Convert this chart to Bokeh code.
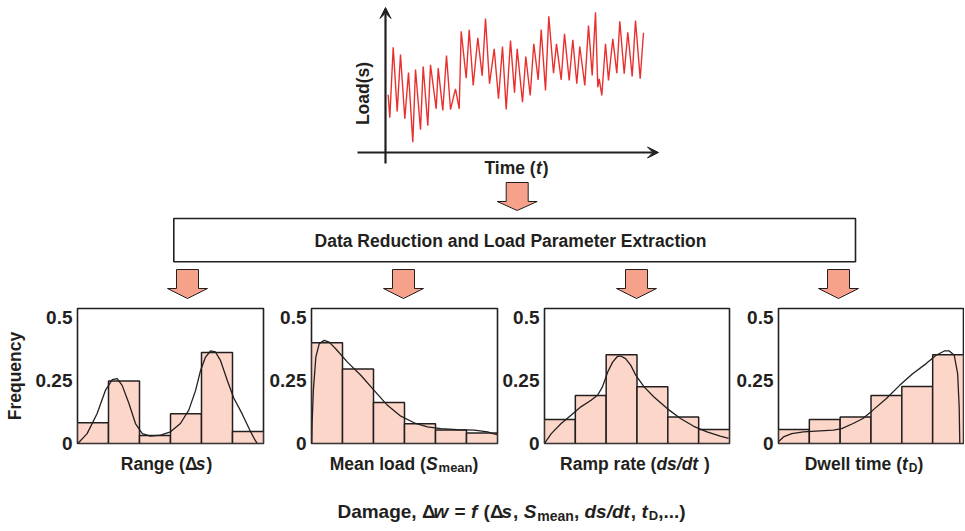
import numpy as np
from bokeh.plotting import figure
from bokeh.models import Range1d, Arrow, VeeHead, FixedTicker, Spacer
from bokeh.layouts import column, row
from bokeh.core.properties import value
from bokeh.embed import file_html
from bokeh.resources import INLINE

FONT = "Liberation Sans"
INK = "#231f20"
RED = "#e8312f"
ARROW_FILL = "#f6a28a"
BAR_FILL = "#fcd6c8"

# ---------------- data ----------------
# load history (time, load) read off the top signal
sig_time = [0.7, 2.3, 5.7, 9.7, 13, 17.3, 21, 25.3, 28, 33, 35.7, 40.3, 43, 48.7, 50.7, 55.3,
            59, 63, 68, 71.7, 73.7, 78.7, 81.7, 85.7, 90.3, 94.7, 98, 102, 106.7, 111, 115,
            118.7, 123, 127, 129.7, 135, 138.3, 142.7, 146.3, 150.7, 153.7, 158, 161.3, 166,
            169, 173.7, 177, 181.7, 185.3, 189.3, 192.3, 197.3, 201, 204.7, 208, 210.3, 211.7,
            214.3, 218, 221, 225.3, 229.3, 232.3, 236.7, 240.3, 244.7, 248, 252.7, 256]
sig_load = [57.7, 34.7, 105.3, 41, 98, 33.7, 80, 10.3, 83, 22.7, 86, 26.7, 87.7, 43.7, 84.3, 42,
            97, 43, 63.7, 43.7, 121.3, 74.3, 122.7, 67, 114.7, 76.7, 134, 68.7, 103.7, 53.7, 106,
            43, 112, 59.7, 103.7, 50.3, 96, 57, 108.7, 72.7, 123, 62, 136.3, 79.3,
            108.7, 72.7, 118.7, 72, 112.7, 68.7, 106, 67, 127, 77, 140.3, 65.3, 73.7,
            57, 108.7, 72, 113.7, 79.3, 131.3, 78.7, 120.3, 76, 132, 73.7, 119.7]

bin_edges = [0, 1, 2, 3, 4, 5, 6]
range_freq = [0.082, 0.247, 0.032, 0.118, 0.360, 0.047]
mean_freq = [0.399, 0.295, 0.162, 0.078, 0.053, 0.042]
ramp_freq = [0.095, 0.190, 0.351, 0.224, 0.105, 0.055]
dwell_freq = [0.055, 0.095, 0.105, 0.190, 0.225, 0.351]

range_curve_x = [0.01, 0.31, 0.63, 0.90, 1.12, 1.28, 1.44, 1.66, 1.87, 2.09, 2.35, 2.68, 3.0, 3.32,
                 3.59, 3.81, 3.97, 4.13, 4.29, 4.45, 4.61, 4.83, 5.04, 5.30, 5.55, 5.72, 5.80]
range_curve_y = [0.0, 0.039, 0.118, 0.21, 0.253, 0.257, 0.23, 0.158, 0.079, 0.039, 0.029, 0.033,
                 0.046, 0.079, 0.132, 0.21, 0.289, 0.342, 0.366, 0.362, 0.329, 0.25, 0.18, 0.12,
                 0.055, 0.015, 0.0]
mean_curve_x = [0.01, 0.02, 0.06, 0.14, 0.25, 0.41, 0.57, 0.78, 1.16, 1.59, 2.02, 2.45, 2.88, 3.31,
                3.74, 4.17, 4.71, 5.25, 5.68, 5.85, 6.0]
mean_curve_y = [0.0, 0.079, 0.21, 0.342, 0.395, 0.408, 0.401, 0.375, 0.322, 0.27, 0.21, 0.151,
                0.108, 0.082, 0.066, 0.059, 0.055, 0.053, 0.046, 0.039, 0.035]
ramp_curve_x = [0.0, 0.22, 0.54, 0.86, 1.18, 1.51, 1.72, 1.88, 2.05, 2.21, 2.37, 2.47, 2.63, 2.80,
                2.96, 3.23, 3.55, 3.98, 4.41, 4.84, 5.27, 5.70, 5.97]
ramp_curve_y = [0.0, 0.039, 0.079, 0.112, 0.145, 0.171, 0.191, 0.224, 0.283, 0.322, 0.345, 0.346,
                0.336, 0.309, 0.27, 0.224, 0.184, 0.138, 0.099, 0.068, 0.046, 0.029, 0.02]
dwell_curve_x = [0.0, 0.16, 0.43, 0.81, 1.35, 1.78, 2.05, 2.42, 2.74, 3.06, 3.50, 3.93, 4.35, 4.79,
                 5.11, 5.38, 5.54, 5.70, 5.81, 5.86, 5.88]
dwell_curve_y = [0.007, 0.026, 0.039, 0.046, 0.05, 0.053, 0.059, 0.079, 0.099, 0.132, 0.178, 0.23,
                 0.276, 0.316, 0.349, 0.366, 0.366, 0.349, 0.276, 0.145, 0.0]

y_ticks = [0, 0.25, 0.5]
y_tick_labels = ["0", "0.25", "0.5"]
Y_TOP = 0.534

# ---------------- text helpers ----------------
CW = {}
for ch, w in zip(" !(),-./0123456789=", [278, 333, 333, 333, 278, 333, 278, 278] + [556] * 10 + [584]):
    CW[ch] = w
for ch, w in zip("ABCDEFGHIJKLMNOPQRSTUVWXYZ",
                 [722, 722, 722, 722, 667, 611, 778, 722, 278, 556, 722, 611, 833, 722, 778, 667,
                  778, 722, 667, 611, 722, 667, 944, 667, 667, 611]):
    CW[ch] = w
for ch, w in zip("abcdefghijklmnopqrstuvwxyz",
                 [556, 611, 556, 611, 556, 333, 611, 611, 278, 278, 556, 278, 889, 611, 611, 611,
                  611, 389, 556, 333, 611, 556, 778, 556, 556, 500]):
    CW[ch] = w
CW["\u0394"] = 612


def tw(s, size):
    return sum(CW.get(c, 556) for c in s) / 1000.0 * size


def rich_glyph(p, cx, cy, segs, ydown=True):
    """segs: (text, italic, size_px, dy_px). Leading spaces become offsets (SVG strips them)."""
    starts, x = [], 0.0
    for t, it, sz, dy in segs:
        lead = len(t) - len(t.lstrip(" "))
        starts.append(x + tw(" " * lead, sz))
        x += tw(t, sz) + (1.0 if it else 0.0)
    x0 = cx - x / 2.0
    for (t, it, sz, dy), xs in zip(segs, starts):
        p.text(x=[x0 + xs], y=[cy + (dy if ydown else -dy)], text=[t.strip(" ")],
               text_font=value(FONT), text_font_size=f"{sz}px",
               text_font_style="bold italic" if it else "bold",
               text_align="left", text_baseline="middle", text_color=INK)


FS = 17.5


def canvas(w, h, xr, yr):
    p = figure(width=w, height=h, x_range=xr, y_range=yr, x_axis_type=None, y_axis_type=None,
               output_backend="svg", toolbar_location=None, min_border=0)
    p.grid.visible = False
    p.outline_line_color = None
    return p


# ---------------- top: load signal ----------------
sig = canvas(330, 180, Range1d(-47, 283), Range1d(-28, 152))
sig.line(sig_time, sig_load, line_color=RED, line_width=1.4)
sig.add_layout(Arrow(end=VeeHead(size=11, fill_color=INK, line_color=INK, line_width=1),
                     x_start=-2, y_start=-11, x_end=-2, y_end=145, line_color=INK, line_width=2.2))
sig.add_layout(Arrow(end=VeeHead(size=11, fill_color=INK, line_color=INK, line_width=1),
                     x_start=-30, y_start=0, x_end=271, y_end=0, line_color=INK, line_width=2.2))
sig.text(x=[-25], y=[59], text=["Load(s)"], angle=np.pi / 2, text_font=value(FONT),
         text_font_size=f"{FS}px", text_font_style="bold", text_align="center",
         text_baseline="middle", text_color=INK)
rich_glyph(sig, 129, -15, [("Time (", False, FS, 0), ("t", True, FS, 0), (")", False, FS, 0)],
           ydown=False)

# ---------------- middle: arrows + box ----------------
mid = canvas(964, 122, Range1d(0, 964), Range1d(122, 0))


def block_arrow(cx, y0, y1, y2, hs=11, hh=20):
    return ([cx - hs, cx + hs, cx + hs, cx + hh, cx, cx - hh, cx - hs],
            [y0, y0, y1, y1, y2, y1, y1])


arrows = [block_arrow(516.7, 2, 21, 30)] + [block_arrow(c, 89, 108, 118)
                                            for c in (187, 403, 636, 838)]
mid.patches([a[0] for a in arrows], [a[1] for a in arrows], fill_color=ARROW_FILL,
            line_color=INK, line_width=1)
mid.quad(left=[173.3], right=[855], top=[38], bottom=[81.3], fill_color="white",
         line_color=INK, line_width=1.6)
mid.text(x=[510], y=[60.5], text=["Data Reduction and Load Parameter Extraction"],
         text_font=value(FONT), text_font_size=f"{FS}px", text_font_style="bold",
         text_align="center", text_baseline="middle", text_color=INK)

# ---------------- histograms ----------------


def hist_fig(freq, cxs, cys, border_left, frame_w, border_right, ylabel=None):
    p = figure(width=border_left + frame_w + border_right, height=151, x_range=Range1d(0, 6),
               y_range=Range1d(0, Y_TOP), x_axis_type=None, output_backend="svg",
               toolbar_location=None, min_border_left=border_left,
               min_border_right=border_right, min_border_top=6, min_border_bottom=10)
    p.grid.visible = False
    p.outline_line_color = INK
    p.outline_line_width = 1.6
    ax = p.yaxis[0]
    ax.ticker = FixedTicker(ticks=y_ticks)
    ax.major_label_overrides = {t: l for t, l in zip(y_ticks, y_tick_labels)}
    ax.axis_line_color = None
    ax.major_tick_line_color = None
    ax.minor_tick_line_color = None
    ax.major_tick_out = 0
    ax.major_tick_in = 0
    ax.major_label_standoff = 5
    ax.major_label_text_font = FONT
    ax.major_label_text_font_size = "19px"
    ax.major_label_text_font_style = "bold"
    ax.major_label_text_color = INK
    if ylabel:
        ax.axis_label = ylabel
        ax.axis_label_text_font = FONT
        ax.axis_label_text_font_size = f"{FS}px"
        ax.axis_label_text_font_style = "bold"
        ax.axis_label_text_color = INK
        ax.axis_label_standoff = 8
    p.quad(left=bin_edges[:-1], right=bin_edges[1:], bottom=0, top=freq,
           fill_color=BAR_FILL, line_color=INK, line_width=1.5)
    p.line(cxs, cys, line_color=INK, line_width=1.3)
    return p


h1 = hist_fig(range_freq, range_curve_x, range_curve_y, 77, 186, 2, ylabel="Frequency")
h2 = hist_fig(mean_freq, mean_curve_x, mean_curve_y, 46, 186, 2)
h3 = hist_fig(ramp_freq, ramp_curve_x, ramp_curve_y, 44, 186, 2)
h4 = hist_fig(dwell_freq, dwell_curve_x, dwell_curve_y, 47, 185, 1)

# ---------------- bottom: axis names + formula ----------------
bot = canvas(964, 74, Range1d(0, 964), Range1d(74, 0))
rich_glyph(bot, 166, 10, [("Range (\u0394", False, FS, 0), ("s", True, FS, 0), (")", False, FS, 0)])
rich_glyph(bot, 403.5, 10, [("Mean load (", False, FS, 0), ("S", True, FS, 0),
                            ("mean", False, 13, 4), (")", False, FS, 0)])
rich_glyph(bot, 634.5, 10, [("Ramp rate (", False, FS, 0), ("ds/dt", True, FS, 0),
                            (" )", False, FS, 0)])
rich_glyph(bot, 863.5, 10, [("Dwell time (", False, FS, 0), ("t", True, FS, 0),
                            ("D", False, 12, 4), (")", False, FS, 0)])
FF = 19
rich_glyph(bot, 511, 58, [("Damage, \u0394", False, FF, 0), ("w", True, FF, 0), (" = ", False, FF, 0),
                          ("f", True, FF, 0), (" (\u0394", False, FF, 0), ("s", True, FF, 0),
                          (", ", False, FF, 0), ("S", True, FF, 0), ("mean", False, 14, 4),
                          (", ", False, FF, 0), ("ds/dt", True, FF, 0), (", ", False, FF, 0),
                          ("t", True, FF, 0), ("D", False, 13, 4), (",...)", False, FF, 0)])

layout = column(row(Spacer(width=340, height=180), sig), mid, row(h1, h2, h3, h4), bot)
open("out.html", "w").write(file_html(layout, INLINE))
